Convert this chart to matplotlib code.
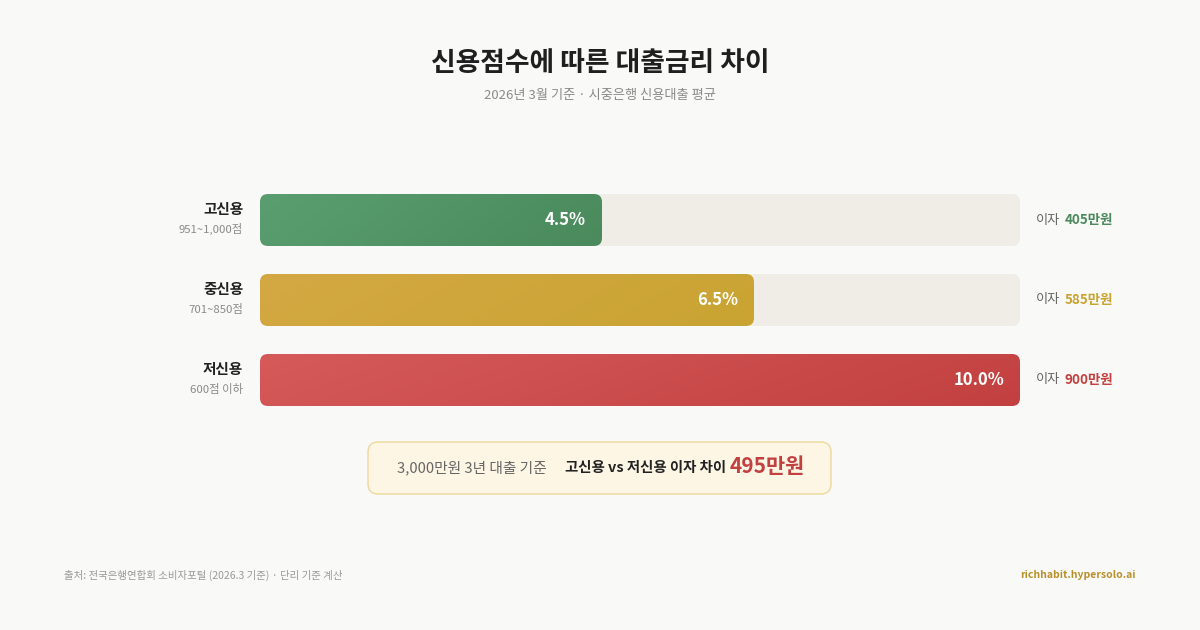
import numpy as np
import matplotlib
matplotlib.use("Agg")
import matplotlib.pyplot as plt
from matplotlib.patches import FancyBboxPatch
from matplotlib.colors import to_rgb

plt.rcParams['font.family'] = ['Noto Sans CJK KR', 'DejaVu Sans']

# data
grades = ['고신용', '중신용', '저신용']
ranges = ['951~1,000점', '701~850점', '600점 이하']
rates = [4.5, 6.5, 10.0]
interest = [405, 585, 900]      # 만원, 3,000만원 3년
rate_max = 10.0

# styles
bg = '#f9f9f7'
track = '#f0ede6'
grad_left = ['#5a9e6f', '#d4a843', '#d65a5a']
grad_right = ['#4a8a5c', '#c9a432', '#c24040']
accent = ['#4a8a5c', '#c9a432', '#c24040']

W, H = 1200, 630
fig = plt.figure(figsize=(12, 6.3), dpi=100, facecolor=bg)

# overlay in pixel coords for titles, callout and footer
over = fig.add_axes([0, 0, 1, 1])
over.set_xlim(0, W)
over.set_ylim(H, 0)
over.axis('off')

over.text(600, 63, '신용점수에 따른 대출금리 차이', ha='center', va='center',
          fontsize=19.3, fontweight='bold', color='#1f1f1f')
over.text(600, 96, '2026년 3월 기준 · 시중은행 신용대출 평균', ha='center', va='center',
          fontsize=9.5, color='#8a8a8a')

# bar axes: x 260..1020 px, rows centred at 220/300/380 px
ax = fig.add_axes([260 / W, (H - 420) / H, 760 / W, 240 / H])
ax.set_xlim(0, rate_max)
ax.set_ylim(2.5, -0.5)
ax.axis('off')

px_x = rate_max / 760   # data units per pixel
px_y = 1 / 80
bar_h = 52 * px_y
rad = 8 * px_x
asp = px_y / px_x


def rbox(x0, y0, w, h, **kw):
    return FancyBboxPatch((x0, y0), w, h,
                          boxstyle='round,pad=0,rounding_size=%f' % rad,
                          mutation_aspect=asp, **kw)


for i, (g, r, rate, amt) in enumerate(zip(grades, ranges, rates, interest)):
    y0 = i - bar_h / 2
    ax.add_patch(rbox(0, y0, rate_max, bar_h, facecolor=track, edgecolor='none', zorder=1))

    bar = rbox(0, y0, rate, bar_h, facecolor='none', edgecolor='none', zorder=2)
    ax.add_patch(bar)
    c0 = np.array(to_rgb(grad_left[i]))
    c1 = np.array(to_rgb(grad_right[i]))
    u = np.linspace(0, 1, 60)[None, :]
    v = np.linspace(0, 1, 12)[:, None]
    t = np.clip(0.85 * u + 0.15 * v, 0, 1)
    img = c0[None, None, :] * (1 - t[..., None]) + c1[None, None, :] * t[..., None]
    im = ax.imshow(img, extent=(0, rate, i + bar_h / 2, i - bar_h / 2),
                   origin='upper', aspect='auto', interpolation='bilinear', zorder=2)
    im.set_clip_path(bar)

    ax.text(rate - 16 * px_x, i, f'{rate:.1f}%', ha='right', va='center',
            fontsize=12, fontweight='bold', color='white', zorder=3)

    ax.text(-17 * px_x, i - 11 * px_y, g, ha='right', va='center',
            fontsize=10.5, fontweight='bold', color='#222222', clip_on=False)
    ax.text(-17 * px_x, i + 9 * px_y, r, ha='right', va='center',
            fontsize=8.2, color='#8a8a8a', clip_on=False)

    t1 = ax.text(rate_max + 16 * px_x, i, '이자', ha='left', va='center',
                 fontsize=9.5, color='#666666', clip_on=False)
    ax.annotate(f'{amt}만원', xy=(1, 0.5), xycoords=t1, xytext=(3, 0),
                textcoords='offset points', ha='left', va='center',
                fontsize=9.7, fontweight='bold', color=accent[i])

# callout
over.add_patch(FancyBboxPatch((368, 442), 463, 52,
                              boxstyle='round,pad=0,rounding_size=10',
                              facecolor='#fdf6e4', edgecolor='#ecd89c', linewidth=1))
c1t = over.text(397, 468, '3,000만원 3년 대출 기준', ha='left', va='center',
                fontsize=10.6, color='#666666')
c2t = over.annotate('고신용 vs 저신용 이자 차이', xy=(1, 0.5), xycoords=c1t,
                    xytext=(13, 0), textcoords='offset points', ha='left', va='center',
                    fontsize=10.4, fontweight='bold', color='#222222')
over.annotate(f'{interest[2] - interest[0]}만원', xy=(1, 0.5), xycoords=c2t,
              xytext=(3, 1), textcoords='offset points', ha='left', va='center',
              fontsize=15, fontweight='bold', color='#c24040')

# footer
over.text(64, 575, '출처: 전국은행연합회 소비자포털 (2026.3 기준) · 단리 기준 계산',
          ha='left', va='center', fontsize=7.5, color='#999999')
over.text(1136, 575, 'richhabit.hypersolo.ai', ha='right', va='center',
          fontsize=7.5, fontweight='bold', color='#b8902a')

fig.savefig('out.png', dpi=100, facecolor=bg)
